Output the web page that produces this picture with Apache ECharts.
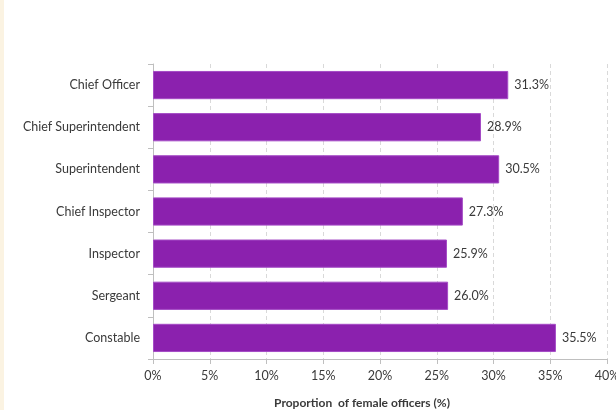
<!DOCTYPE html>
<html>
<head>
<meta charset="utf-8">
<script src="https://cdn.jsdelivr.net/npm/echarts@6/dist/echarts.min.js"></script>
<style>
  html, body { margin: 0; padding: 0; background: #fff; }
  #frame { position: absolute; left: 0; top: 0; width: 4px; height: 410px; background: #fbf3e2; }
  #chart { width: 616px; height: 410px; }
</style>
</head>
<body>
<div id="frame"></div>
<div id="chart"></div>
<script>
// ranks listed top to bottom
const ranks = ['Chief Officer', 'Chief Superintendent', 'Superintendent', 'Chief Inspector', 'Inspector', 'Sergeant', 'Constable'];
const femaleShare = [31.3, 28.9, 30.5, 27.3, 25.9, 26.0, 35.5];
const xTicks = [0, 5, 10, 15, 20, 25, 30, 35, 40];

const chart = echarts.init(document.getElementById('chart'));
const textColor = '#3a3a3a';
const font = 'Lato, "Open Sans", sans-serif';

chart.setOption({
    animation: false,
    grid: { left: 153, right: 9, top: 64, bottom: 51, outerBoundsMode: 'none' },
    xAxis: {
        type: 'value',
        min: xTicks[0],
        max: xTicks[xTicks.length - 1],
        interval: 5,
        name: 'Proportion  of female officers (%)',
        nameLocation: 'middle',
        nameGap: 38,
        // title sits a little left of the plot centre in the original
        nameTextStyle: { color: textColor, fontFamily: font, fontSize: 12, fontWeight: 'bold', padding: [0, 36, 0, 0] },
        axisLine: { show: true, lineStyle: { color: '#bfbfbf' } },
        axisTick: { show: true, length: 5, lineStyle: { color: '#bfbfbf' } },
        axisLabel: { color: textColor, fontFamily: font, fontSize: 12.5, margin: 10, formatter: v => v + '%' },
        splitLine: { show: true, lineStyle: { color: '#d9d9d9', type: [4, 3] } }
    },
    yAxis: {
        type: 'category',
        data: ranks,
        inverse: true,
        axisLine: { show: true, lineStyle: { color: '#bfbfbf' } },
        axisTick: { show: true, length: 5, lineStyle: { color: '#bfbfbf' } },
        axisLabel: { color: textColor, fontFamily: font, fontSize: 12.5, margin: 13 }
    },
    series: [{
        type: 'bar',
        data: femaleShare,
        barCategoryGap: '33%',
        itemStyle: { color: '#8b21ae', borderColor: '#a54cc6', borderWidth: 1 },
        label: {
            show: true,
            position: 'right',
            distance: 6,
            color: textColor,
            fontFamily: font,
            fontSize: 12.5,
            formatter: p => p.value.toFixed(1) + '%'
        }
    }]
});
</script>
</body>
</html>
